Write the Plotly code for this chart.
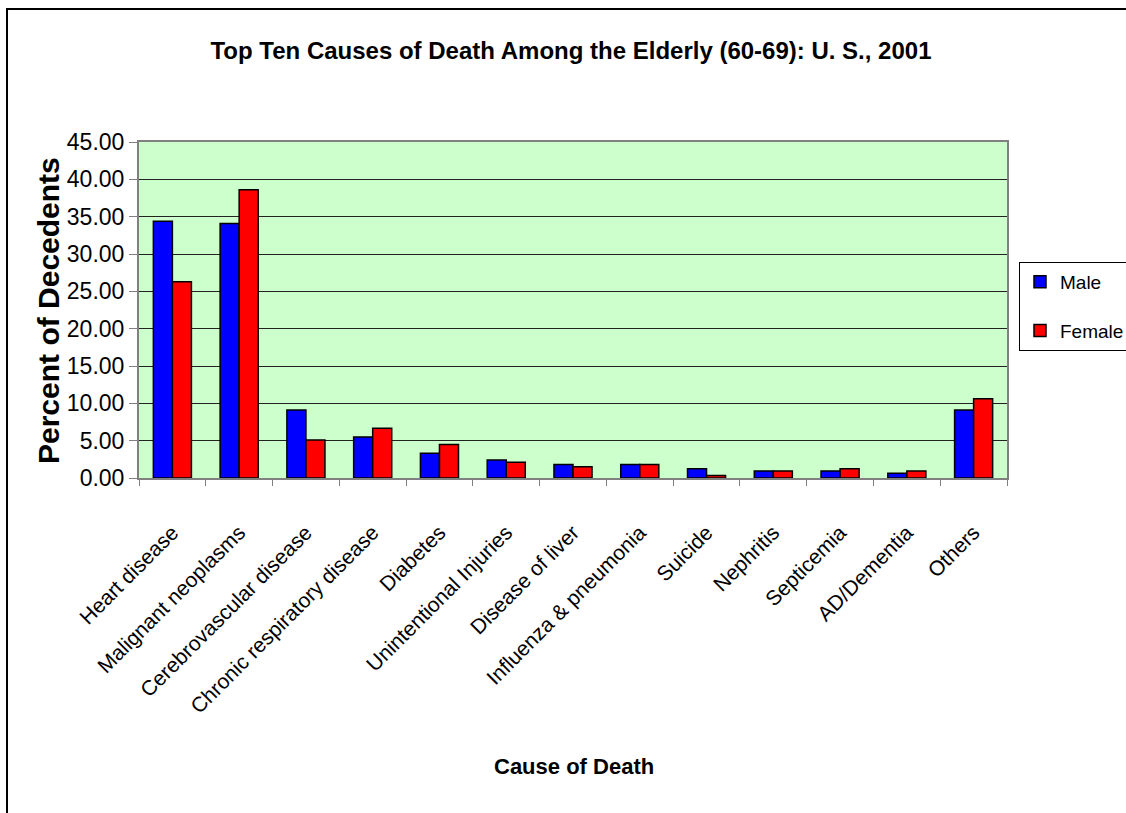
import plotly.graph_objects as go

categories = ["Heart disease", "Malignant neoplasms", "Cerebrovascular disease",
              "Chronic respiratory disease", "Diabetes", "Unintentional Injuries",
              "Disease of liver", "Influenza & pneumonia", "Suicide", "Nephritis",
              "Septicemia", "AD/Dementia", "Others"]
male = [34.4, 34.1, 9.1, 5.5, 3.3, 2.4, 1.8, 1.8, 1.25, 0.95, 0.95, 0.63, 9.1]
female = [26.3, 38.6, 5.1, 6.65, 4.5, 2.1, 1.5, 1.8, 0.35, 0.95, 1.25, 0.95, 10.6]
y_ticks = [0, 5, 10, 15, 20, 25, 30, 35, 40, 45]

SANS = "Liberation Sans, Arial, sans-serif"

W, H = 1126, 813
L, R, T, B = 139, 119, 142, 335
pw, ph = W - L - R, H - T - B

def px(x):
    return (x - L) / pw

def py(y):
    return (H - B - y) / ph

fig = go.Figure()
fig.add_trace(go.Bar(name="Male", x=categories, y=male, legendgroup="m",
                     marker=dict(color="#0000FF", line=dict(color="black", width=1.5))))
fig.add_trace(go.Bar(name="Female", x=categories, y=female, legendgroup="f",
                     marker=dict(color="#FF0000", line=dict(color="black", width=1.5))))

fig.update_layout(
    width=W, height=H,
    margin=dict(l=L, r=R, t=T, b=B, autoexpand=False),
    paper_bgcolor="white",
    plot_bgcolor="#CCFFCC",
    barmode="group", bargap=0.43, bargroupgap=0,
    font=dict(family=SANS, color="black"),
    title=dict(text="<b>Top Ten Causes of Death Among the Elderly (60-69): U. S., 2001</b>",
               font=dict(family=SANS, size=24, color="black"),
               x=px(571), xref="paper", xanchor="center",
               y=1 - 51 / H, yref="container", yanchor="middle"),
    legend=dict(x=px(1019), y=py(262), xanchor="left", yanchor="top",
                bgcolor="white", bordercolor="black", borderwidth=1,
                font=dict(family=SANS, size=19, color="black"),
                tracegroupgap=21, itemwidth=30),
    showlegend=True,
    xaxis=dict(
        tickangle=-45, tickson="boundaries", ticks="outside", ticklen=6,
        tickcolor="#808080", showline=True, linecolor="#808080", linewidth=2,
        mirror=True, showgrid=False,
        tickfont=dict(family=SANS, size=21, color="black"),
        ticklabelstandoff=32,
    ),
    yaxis=dict(
        range=[0, 45], tickvals=y_ticks, tickformat=".2f",
        ticks="outside", ticklen=8, tickcolor="#808080",
        showline=True, linecolor="#808080", linewidth=2, mirror=True,
        showgrid=True, gridcolor="#222222", gridwidth=1,
        tickfont=dict(family=SANS, size=23, color="black"),
        zeroline=False,
    ),
    annotations=[
        dict(text="<b>Cause of Death</b>", x=px(574), y=py(766), xref="paper", yref="paper",
             showarrow=False, xanchor="center", yanchor="middle",
             font=dict(family=SANS, size=22, color="black")),
        dict(text="<b>Percent of Decedents</b>", x=px(48), y=py(311), xref="paper", yref="paper",
             showarrow=False, xanchor="center", yanchor="middle", textangle=-90,
             font=dict(family=SANS, size=30, color="black")),
    ],
    shapes=[
        dict(type="rect", xref="paper", yref="paper",
             x0=px(7), x1=px(1300), y0=py(1000), y1=py(9),
             line=dict(color="black", width=2), fillcolor="rgba(0,0,0,0)", layer="above"),
    ],
)

fig.write_html("out.html")
